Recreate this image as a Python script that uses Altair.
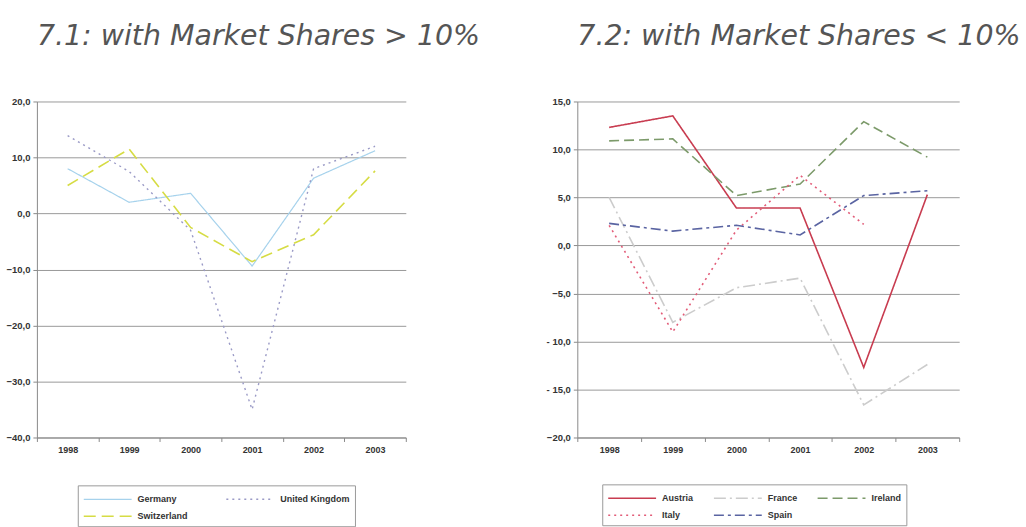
import altair as alt
import pandas as pd

years = ["1998", "1999", "2000", "2001", "2002", "2003"]

# 7.1: countries with market shares above 10 %
big_countries = ["Germany", "United Kingdom", "Switzerland"]
germany = [8.0, 2.0, 3.6, -9.4, 6.3, 11.2]
united_kingdom = [13.9, 7.5, -3.0, -35.0, 8.0, 12.0]
switzerland = [5.0, 11.5, -2.5, -8.6, -3.8, 7.6]

# 7.2: countries with market shares below 10 %
small_countries = ["Austria", "France", "Ireland", "Italy", "Spain"]
austria = [12.3, 13.5, 3.9, 3.9, -12.7, 5.3]
france = [5.0, -8.0, -4.4, -3.4, -16.6, -12.4]
ireland = [10.9, 11.1, 5.2, 6.4, 12.9, 9.2]
italy = [2.1, -9.0, 1.6, 7.3, 2.2]          # series stops in 2002
spain = [2.3, 1.5, 2.1, 1.1, 5.2, 5.7]

big_colors = ["#a6d2ec", "#9a9ac6", "#d6dc44"]
big_dashes = [[1, 0], [2, 4], [12, 6]]
big_widths = [1.2, 1.6, 2.0]

small_colors = ["#c83c50", "#cccccc", "#7c9a6a", "#e25c78", "#5a64a2"]
small_dashes = [[1, 0], [12, 4, 2, 4], [10, 5], [2, 4], [10, 4, 3, 4]]
small_widths = [1.6, 1.6, 2.0, 2.0, 2.0]

# legend key: a short horizontal stroke that runs 48 px to the right of the
# symbol's own box (size 256 -> half-width 8 px per path unit)
KEY_PATH = "M-1,0H5"


def long_table(names, series):
    rows = []
    for name, values in zip(names, series):
        for year, v in zip(years, values):
            rows.append({"year": year, "country": name, "value": v})
    return pd.DataFrame(rows)


big_df = long_table(big_countries, [germany, united_kingdom, switzerland])
small_df = long_table(small_countries, [austria, france, ireland, italy, spain])

comma = "replace(format(datum.value, '.1f'), '.', ',')"
comma_spaced = (
    "(datum.value <= -10 && datum.value > -20) ? "
    "'- ' + replace(format(-datum.value, '.1f'), '.', ',') : " + comma
)


def panel(df, names, colors, dashes, widths, y_domain, y_values, label_expr,
          title, width, legend_x, legend_y, columns, column_padding):
    legend = alt.Legend(
        orient="none", legendX=legend_x, legendY=legend_y, title=None,
        columns=columns, direction="horizontal",
        symbolType=KEY_PATH, symbolSize=256,
        labelFont="Liberation Sans", labelFontSize=9, labelFontWeight="bold",
        labelColor="#333333", labelOffset=37, strokeColor="#9a9a9a",
        fillColor="white", padding=5, columnPadding=column_padding,
        rowPadding=3,
    )
    return alt.Chart(df).mark_line(strokeCap="butt").encode(
        x=alt.X(
            "year:O", bandPosition=0.5,
            scale=alt.Scale(type="band", domain=years, paddingInner=0, paddingOuter=0),
            axis=alt.Axis(title=None, labelAngle=0, tickBand="extent", grid=False,
                          labelFontSize=9, labelPadding=4),
        ),
        y=alt.Y(
            "value:Q",
            scale=alt.Scale(domain=y_domain, nice=False, zero=False),
            axis=alt.Axis(title=None, values=y_values, labelExpr=label_expr,
                          grid=True, labelFontSize=9.5, labelPadding=3),
        ),
        color=alt.Color("country:N", scale=alt.Scale(domain=names, range=colors), legend=legend),
        strokeDash=alt.StrokeDash("country:N", scale=alt.Scale(domain=names, range=dashes), legend=legend),
        strokeWidth=alt.StrokeWidth("country:N", scale=alt.Scale(domain=names, range=widths), legend=legend),
    ).properties(
        width=width, height=337,
        title=alt.TitleParams(
            text=title, anchor="start", frame="group", font="DejaVu Sans",
            fontSize=28.5, fontStyle="italic", fontWeight="normal", color="#555555",
            offset=46,
        ),
    )


left = panel(big_df, big_countries, big_colors, big_dashes, big_widths,
             [-40, 20], [-40, -30, -20, -10, 0, 10, 20], comma,
             "7.1: with Market Shares > 10%", 370, 41, 385, 2, 35)
right = panel(small_df, small_countries, small_colors, small_dashes, small_widths,
              [-20, 15], [-20, -15, -10, -5, 0, 5, 10, 15], comma_spaced,
              "7.2: with Market Shares < 10%", 383, 25, 384, 3, 16)

chart = alt.hconcat(left, right, spacing=172).resolve_scale(
    color="independent", strokeDash="independent", strokeWidth="independent"
).resolve_legend(
    color="independent", strokeDash="independent", strokeWidth="independent"
).properties(
    bounds="flush", padding={"left": 5, "top": 21, "right": 5, "bottom": 0},
    background="white",
).configure_view(
    stroke=None
).configure_axis(
    domainColor="#8a8a8a", tickColor="#8a8a8a", gridColor="#9a9a9a",
    tickSize=4, labelFont="Liberation Sans", labelColor="#333333",
    labelFontWeight="bold",
)

chart.save("out.html", embed_options={"renderer": "svg", "actions": False})
